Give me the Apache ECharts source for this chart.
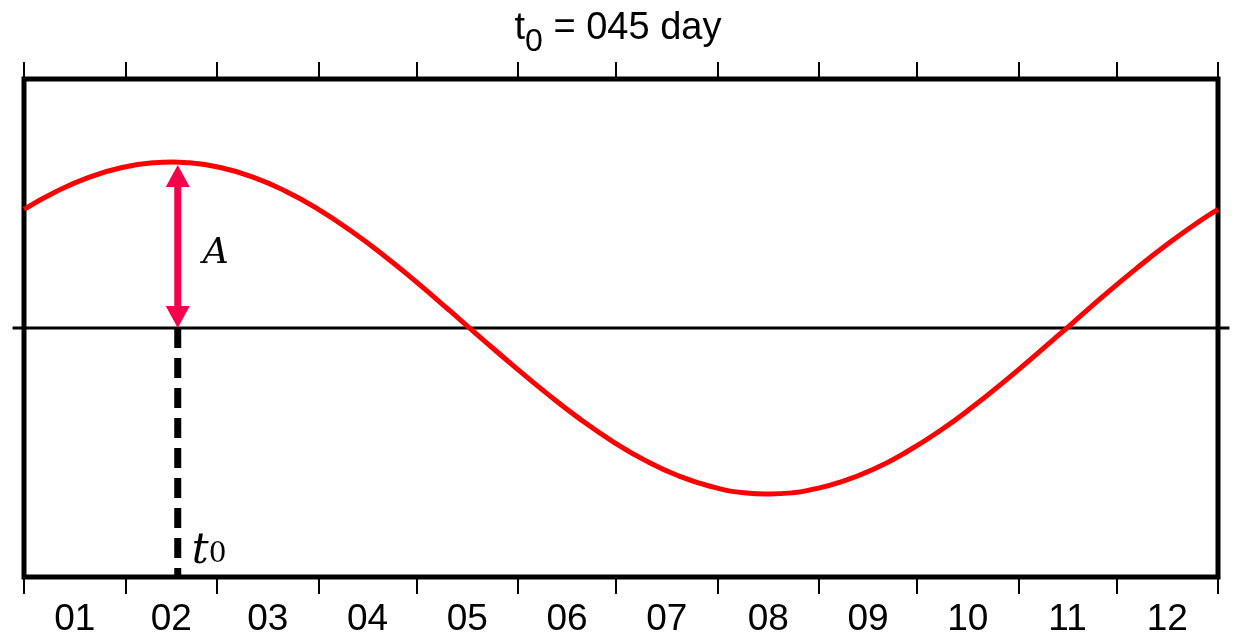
<!DOCTYPE html>
<html>
<head>
<meta charset="utf-8">
<script src="https://cdn.jsdelivr.net/npm/echarts@6/dist/echarts.min.js"></script>
<style>
  html, body { margin: 0; padding: 0; background: #fff; }
  #chart { width: 1236px; height: 639px; }
</style>
</head>
<body>
<div id="chart"></div>
<script>
// day of year where each month starts (last one = end of year)
const monthStarts = [0, 31, 59, 90, 120, 151, 181, 212, 243, 273, 304, 334, 365]
const monthMids = [15.5, 45, 74.5, 105, 135.5, 166, 196.5, 227.5, 258, 288.5, 319, 349.5]
const monthLabels = ['01', '02', '03', '04', '05', '06', '07', '08', '09', '10', '11', '12']

// seasonal curve (day, value)
const curveDays = [0, 10, 20, 30, 40, 45, 50, 60, 70, 80, 90, 100, 110, 120, 130, 140, 150, 160, 170, 180,
  190, 200, 210, 220, 227.5, 235, 240, 250, 260, 270, 280, 290, 300, 310, 320, 330, 340, 350, 360, 365]
const curveValues = [0.715, 0.824, 0.909, 0.967, 0.996, 1.0, 0.996, 0.967, 0.909, 0.824, 0.715, 0.584, 0.437, 0.276, 0.107,
  -0.065, -0.234, -0.397, -0.549, -0.684, -0.799, -0.890, -0.955, -0.992, -1.0, -0.993, -0.977, -0.926, -0.848, -0.744,
  -0.619, -0.475, -0.317, -0.150, 0.021, 0.193, 0.358, 0.512, 0.652, 0.715]

// annotation: t0 and amplitude
const t0Day = 47
const amplitude = 1
const zeroLineDays = [-3.5, 368.5]

const chart = echarts.init(document.getElementById('chart'))

const curveData = curveDays.map((d, i) => [d, curveValues[i]])

function renderArrow(params, api) {
  const x = api.value(0)
  const p0 = api.coord([x, api.value(1)])
  const p1 = api.coord([x, api.value(2)])
  const headLen = 22
  const headW = 12
  const color = '#f5004b'
  const top = p1[1] + 3
  const bottom = p0[1]
  return {
    type: 'group',
    children: [
      {
        type: 'line',
        shape: { x1: p0[0], y1: top + headLen - 2, x2: p0[0], y2: bottom - headLen + 2 },
        style: { stroke: color, lineWidth: 7 }
      },
      {
        type: 'polygon',
        shape: { points: [[p0[0], top], [p0[0] - headW, top + headLen], [p0[0] + headW, top + headLen]] },
        style: { fill: color }
      },
      {
        type: 'polygon',
        shape: { points: [[p0[0], bottom], [p0[0] - headW, bottom - headLen], [p0[0] + headW, bottom - headLen]] },
        style: { fill: color }
      }
    ]
  }
}

function renderZeroLine(params, api) {
  const a = api.coord([api.value(0), api.value(2)])
  const b = api.coord([api.value(1), api.value(2)])
  return {
    type: 'line',
    shape: { x1: a[0], y1: a[1], x2: b[0], y2: b[1] },
    style: { stroke: '#000', lineWidth: 3 }
  }
}

const tickStyle = {
  show: true,
  customValues: monthStarts,
  length: 17,
  lineStyle: { color: '#000', width: 2 }
}

chart.setOption({
  animation: false,
  title: {
    text: '{t|t}{s|0}{t| = 045 day}',
    left: 'center',
    top: 5,
    textStyle: {
      fontWeight: 'normal',
      rich: {
        t: { fontFamily: 'Liberation Sans', fontWeight: 'normal', fontSize: 38, color: '#000', lineHeight: 38, verticalAlign: 'top' },
        s: { fontFamily: 'Liberation Sans', fontWeight: 'normal', fontSize: 32, color: '#000', lineHeight: 32, padding: [16, 0, 0, 0], verticalAlign: 'top' }
      }
    }
  },
  grid: {
    show: true,
    left: 24,
    right: 18,
    top: 79,
    bottom: 62,
    borderColor: '#000',
    borderWidth: 5
  },
  xAxis: [
    {
      type: 'value',
      min: 0,
      max: 365,
      position: 'bottom',
      axisLine: { show: false, onZero: false },
      axisTick: tickStyle,
      splitLine: { show: false },
      axisLabel: {
        customValues: monthMids,
        margin: 24,
        color: '#000',
        fontFamily: 'Liberation Sans',
        fontSize: 37,
        formatter: function(v) {
          const i = monthMids.indexOf(v)
          return i >= 0 ? monthLabels[i] : ''
        }
      }
    },
    {
      type: 'value',
      min: 0,
      max: 365,
      position: 'top',
      axisLine: { show: false, onZero: false },
      axisTick: tickStyle,
      axisLabel: { show: false },
      splitLine: { show: false }
    }
  ],
  yAxis: {
    type: 'value',
    min: -1.5,
    max: 1.5,
    axisLine: { show: false },
    axisTick: { show: false },
    axisLabel: { show: false },
    splitLine: { show: false }
  },
  series: [
    {
      // zero line sticks out a little past the frame
      type: 'custom',
      renderItem: renderZeroLine,
      data: [[zeroLineDays[0], zeroLineDays[1], 0]],
      clip: false,
      silent: true,
      z: 3
    },
    {
      type: 'line',
      data: [[t0Day, 0], [t0Day, -1.5]],
      showSymbol: false,
      lineStyle: { color: '#000', width: 7, type: [20, 10], cap: 'butt' },
      z: 2
    },
    {
      type: 'line',
      data: curveData,
      smooth: true,
      showSymbol: false,
      lineStyle: { color: '#ff0000', width: 5 },
      z: 4
    },
    {
      type: 'custom',
      renderItem: renderArrow,
      data: [[t0Day, 0, amplitude]],
      z: 5
    },
    {
      type: 'scatter',
      symbolSize: 0,
      itemStyle: { opacity: 1 },
      data: [[t0Day, 0.45]],
      label: {
        show: true,
        position: 'inside',
        offset: [38, 0],
        formatter: 'A',
        color: '#000',
        opacity: 1,
        fontFamily: 'DejaVu Serif',
        fontStyle: 'italic',
        fontSize: 36
      }
    },
    {
      type: 'scatter',
      symbolSize: 0,
      itemStyle: { opacity: 1 },
      data: [[t0Day, -1.5]],
      label: {
        show: true,
        position: 'inside',
        align: 'left',
        verticalAlign: 'bottom',
        offset: [14, -4],
        opacity: 1,
        formatter: '{t|t}{s|0}',
        rich: {
          t: { fontFamily: 'DejaVu Serif', fontStyle: 'italic', fontSize: 42, color: '#000', lineHeight: 46, verticalAlign: 'bottom' },
          s: { fontFamily: 'DejaVu Serif', fontSize: 28, color: '#000', lineHeight: 32, verticalAlign: 'bottom', padding: [0, 0, 4, 0] }
        }
      }
    }
  ]
})
</script>
</body>
</html>
